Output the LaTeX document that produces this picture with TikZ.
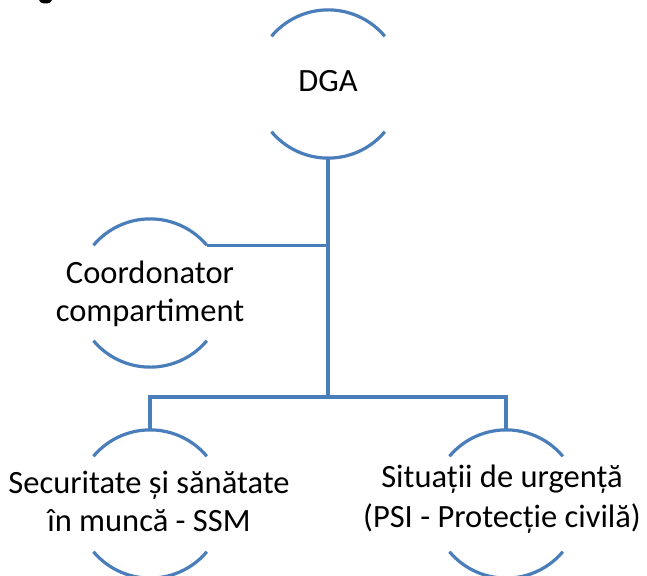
\documentclass[tikz,border=0pt]{standalone}
\usepackage{fontspec}
\setmainfont{Carlito}
\definecolor{linkblue}{RGB}{74,126,187}
\begin{document}
\begin{tikzpicture}[x=1pt,y=-1pt,
  ring/.style={circle,draw=none,minimum size=148pt,inner sep=0pt},
  arcline/.style={draw=linkblue,line width=3.2pt},
  conn/.style={draw=linkblue,line width=3.2pt},
  lbl/.style={align=center,inner sep=0pt,font=\fontsize{32.5}{38}\selectfont}]
\useasboundingbox (0,0) rectangle (647,575);
\begin{scope}
\clip (0,0) rectangle (647,575);
% cut-off fragment of a heading
\fill (52,0) arc[start angle=0,end angle=180,x radius=6.5,y radius=3.5] -- cycle;
% circle nodes
\node[ring] (dga) at (328,84) {};
\node[ring] (coord) at (150,293) {};
\node[ring] (ssm) at (150,504) {};
\node[ring] (sit) at (506,504) {};
% arcs
\foreach \n in {dga,coord,ssm,sit}{
  \draw[arcline] (\n.40) arc[start angle=-40,end angle=-140,radius=74];
  \draw[arcline] (\n.-40) arc[start angle=40,end angle=140,radius=74];
}
% texts
\node[lbl] (dgat) at (328,81) {DGA};
\node[lbl] (coordt) at (150,294) {Coordonator\\compartiment};
\node[lbl] (ssmt) at (149,501) {Securitate și sănătate\\în muncă - SSM};
\node[lbl,font=\fontsize{32.5}{40}\selectfont] (sitt) at (502,499) {Situații de urgență\\(PSI - Protecție civilă)};
% connectors
\coordinate (j) at (328,397);
\draw[conn] (dga.south) -- (j);
\draw[conn] (coord.40) -- (coord.40 -| dga.south);
\draw[conn] (ssm.north) |- (j) -| (sit.north);
\end{scope}
\end{tikzpicture}
\end{document}
